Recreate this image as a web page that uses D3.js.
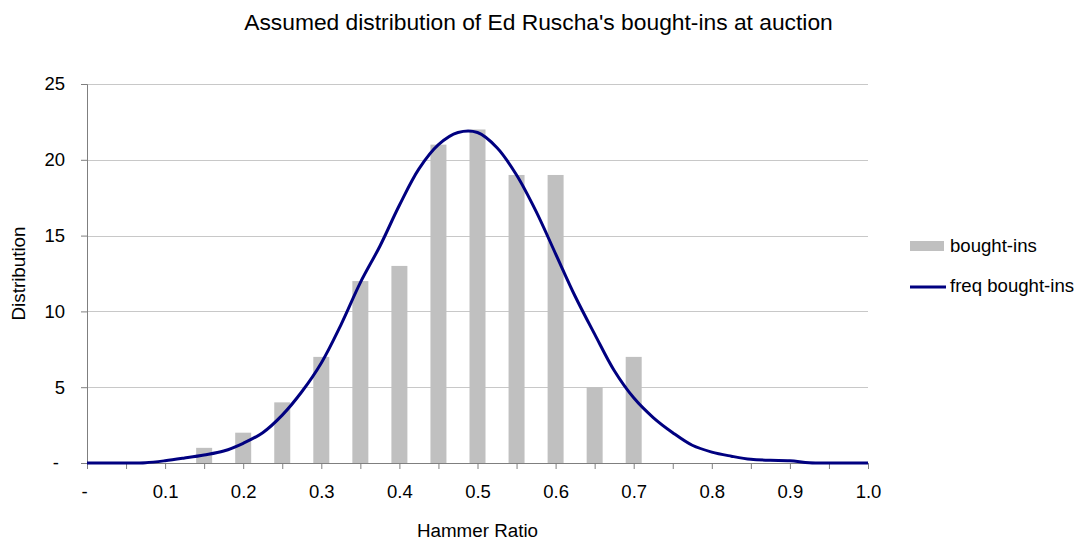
<!DOCTYPE html>
<html>
<head>
<meta charset="utf-8">
<script src="https://cdn.jsdelivr.net/npm/d3@7"></script>
<style>
  html, body { margin: 0; padding: 0; background: #fff; }
  svg { display: block; font-family: "Liberation Sans", Arial, sans-serif; }
</style>
</head>
<body>
<svg id="chart" width="1078" height="540"></svg>
<script>
// Histogram of bought-ins per hammer-ratio bin
const binCenters = [0.15, 0.2, 0.25, 0.3, 0.35, 0.4, 0.45, 0.5, 0.55, 0.6, 0.65, 0.7];
const boughtIns  = [1, 2, 4, 7, 12, 13, 21, 22, 19, 19, 5, 7];

// Fitted frequency curve
const freqX = [0, 0.025, 0.05, 0.075, 0.1, 0.125, 0.15, 0.175, 0.2, 0.225, 0.25, 0.275,
               0.3, 0.325, 0.35, 0.375, 0.4, 0.425, 0.45, 0.475, 0.5, 0.525, 0.55, 0.575,
               0.6, 0.625, 0.65, 0.675, 0.7, 0.725, 0.75, 0.775, 0.8, 0.825, 0.85, 0.875,
               0.9, 0.925, 0.95, 0.975, 1.0];
const freqY = [0, 0, 0, 0.02, 0.15, 0.33, 0.53, 0.79, 1.3, 2.0, 3.16, 4.7,
               6.6, 9.1, 11.9, 14.3, 17.0, 19.4, 21.0, 21.8, 21.8, 20.8, 19.0, 16.6,
               13.8, 11.0, 8.5, 6.1, 4.3, 3.0, 2.0, 1.17, 0.72, 0.45, 0.24, 0.18,
               0.15, 0.02, 0, 0, 0];

const xTicks = [0, 0.05, 0.1, 0.15, 0.2, 0.25, 0.3, 0.35, 0.4, 0.45, 0.5,
                0.55, 0.6, 0.65, 0.7, 0.75, 0.8, 0.85, 0.9, 0.95, 1.0];
const xLabels = ["-", "0.1", "0.2", "0.3", "0.4", "0.5", "0.6", "0.7", "0.8", "0.9", "1.0"];
const yTicks = [0, 5, 10, 15, 20, 25];
const yLabels = ["-", "5", "10", "15", "20", "25"];

const title = "Assumed distribution of Ed Ruscha's bought-ins at auction";
const xTitle = "Hammer Ratio";
const yTitle = "Distribution";
const seriesNames = ["bought-ins", "freq bought-ins"];

const svg = d3.select("#chart");
const margin = { left: 87, right: 210, top: 84, bottom: 77 };
const W = 1078, H = 540;
const plotW = W - margin.left - margin.right;
const plotH = H - margin.top - margin.bottom;

const x = d3.scaleLinear().domain([0, 1]).range([margin.left, margin.left + plotW]);
const y = d3.scaleLinear().domain([0, 25]).range([margin.top + plotH, margin.top]);

const axisColor = "#7f7f7f";
const gridColor = "#c8c8c8";
const barColor = "#c0c0c0";
const lineColor = "#000080";

// Horizontal gridlines
svg.append("g")
  .selectAll("line")
  .data(yTicks.filter(d => d > 0))
  .join("line")
  .attr("x1", x(0)).attr("x2", x(1))
  .attr("y1", d => Math.round(y(d)) + 0.5).attr("y2", d => Math.round(y(d)) + 0.5)
  .attr("stroke", gridColor).attr("stroke-width", 1);

// Bars
const barW = 16;
svg.append("g")
  .selectAll("rect")
  .data(binCenters.map((c, i) => ({ c, v: boughtIns[i] })))
  .join("rect")
  .attr("x", d => x(d.c) - barW / 2)
  .attr("width", barW)
  .attr("y", d => y(d.v))
  .attr("height", d => y(0) - y(d.v))
  .attr("fill", barColor);

// Y axis
const yAxis = d3.axisLeft(y)
  .tickValues(yTicks)
  .tickFormat((d, i) => yLabels[i])
  .tickSize(6)
  .tickPadding(16);
const gy = svg.append("g")
  .attr("transform", `translate(${x(0)},0)`)
  .call(yAxis);
gy.select(".domain").attr("stroke", axisColor);
gy.selectAll(".tick line").attr("stroke", axisColor);
gy.selectAll(".tick text")
  .attr("font-size", 18.5).attr("fill", "#000")
  .attr("font-family", "'Liberation Sans', Arial, sans-serif")
  .attr("dx", d => d === 0 ? -6 : 0);

// X axis
const xAxis = d3.axisBottom(x)
  .tickValues(xTicks)
  .tickFormat(d => {
    const k = Math.round(d * 10);
    return Math.abs(d * 10 - k) < 1e-6 ? xLabels[k] : "";
  })
  .tickSize(6)
  .tickPadding(16);
const gx = svg.append("g")
  .attr("transform", `translate(0,${y(0)})`)
  .call(xAxis);
gx.select(".domain").attr("stroke", axisColor);
gx.selectAll(".tick line").attr("stroke", axisColor);
gx.selectAll(".tick text")
  .attr("font-size", 18.5).attr("fill", "#000")
  .attr("font-family", "'Liberation Sans', Arial, sans-serif")
  .attr("dx", d => d === 0 ? -3 : 0);

// Frequency curve
const line = d3.line()
  .x((d, i) => x(freqX[i]))
  .y(d => y(d))
  .curve(d3.curveCatmullRom.alpha(0.5));
svg.append("path")
  .datum(freqY)
  .attr("d", line)
  .attr("fill", "none")
  .attr("stroke", lineColor)
  .attr("stroke-width", 3)
  .attr("stroke-linejoin", "round");

// Title
svg.append("text")
  .attr("x", 538.5).attr("y", 30)
  .attr("text-anchor", "middle")
  .attr("font-size", 22.8)
  .text(title);

// Axis titles
svg.append("text")
  .attr("x", x(0.5)).attr("y", 537)
  .attr("text-anchor", "middle")
  .attr("font-size", 18.8)
  .text(xTitle);

svg.append("text")
  .attr("transform", `translate(25,${y(12.5)}) rotate(-90)`)
  .attr("text-anchor", "middle")
  .attr("font-size", 18.8)
  .text(yTitle);

// Legend
const lg = svg.append("g").attr("transform", "translate(910,0)");
lg.append("rect")
  .attr("x", 0).attr("y", 241).attr("width", 34).attr("height", 10)
  .attr("fill", barColor);
lg.append("text")
  .attr("x", 40).attr("y", 252)
  .attr("font-size", 18.6)
  .text(seriesNames[0]);
lg.append("line")
  .attr("x1", 0).attr("x2", 36).attr("y1", 287).attr("y2", 287)
  .attr("stroke", lineColor).attr("stroke-width", 3);
lg.append("text")
  .attr("x", 40).attr("y", 292)
  .attr("font-size", 18.6)
  .text(seriesNames[1]);
</script>
</body>
</html>
